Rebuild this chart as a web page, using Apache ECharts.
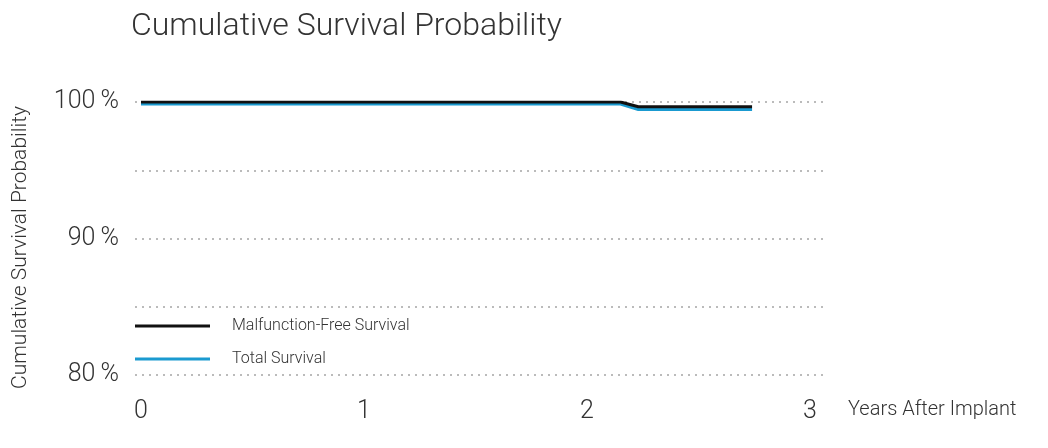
<!DOCTYPE html>
<html>
<head>
<meta charset="utf-8">
<script src="https://cdn.jsdelivr.net/npm/echarts@6/dist/echarts.min.js"></script>
<style>html,body{margin:0;padding:0;background:#fff;}#c{width:1048px;height:448px;}</style>
</head>
<body>
<div id="c"></div>
<script>
var years = [0, 2.15, 2.23, 2.74];
var malfunctionFree = [100, 100, 99.65, 99.65];
var totalSurvival = [99.85, 99.85, 99.45, 99.45];
var xTicks = [0, 1, 2, 3];
var yLabelValues = [80, 90, 100];
var seriesNames = ['Malfunction-Free Survival', 'Total Survival'];

function pairs(xs, ys) { return xs.map(function (x, i) { return [x, ys[i]]; }); }

var chart = echarts.init(document.getElementById('c'));
var font = 'Roboto';
chart.setOption({
  animation: false,
  backgroundColor: '#fff',
  title: {
    text: 'Cumulative Survival Probability',
    left: 126, top: 6,
    textStyle: { fontFamily: font, fontWeight: 300, fontSize: 32, color: '#333' }
  },
  legend: {
    orient: 'vertical',
    left: 130, top: 313,
    icon: 'rect', itemWidth: 75, itemHeight: 3, itemGap: 17,
    textStyle: { fontFamily: font, fontSize: 16, fontWeight: 300, color: '#333', padding: [0, 0, 0, 17] },
    data: seriesNames
  },
  grid: { left: 135, right: 223, top: 102, bottom: 73 },
  xAxis: {
    type: 'value',
    min: -0.027, max: 3.067,
    axisLine: { show: false }, axisTick: { show: false },
    splitLine: { show: false },
    axisLabel: { customValues: xTicks, margin: 24, fontFamily: font, fontWeight: 300, fontSize: 25, color: '#333' },
    name: 'Years After Implant',
    nameLocation: 'end', nameGap: 23,
    nameTextStyle: { fontFamily: font, fontWeight: 300, fontSize: 20, color: '#333', verticalAlign: 'top', padding: [25, 0, 0, 0] }
  },
  yAxis: {
    type: 'value', min: 80, max: 100, interval: 5,
    axisLine: { show: false }, axisTick: { show: false },
    splitLine: { show: true, lineStyle: { color: '#bbb', type: [2, 5], width: 2 } },
    axisLabel: {
      margin: 16, fontFamily: font, fontWeight: 300, fontSize: 25, color: '#333',
      formatter: function (v) { return yLabelValues.indexOf(v) >= 0 ? v + '\u2009%' : ''; }
    },
    name: 'Cumulative Survival Probability',
    nameLocation: 'middle', nameGap: 104, nameRotate: 90,
    nameTextStyle: { fontFamily: font, fontWeight: 300, fontSize: 21, color: '#333', padding: [0, 18, 0, 0] }
  },
  series: [
    { name: seriesNames[1], type: 'line', data: pairs(years, totalSurvival), showSymbol: false, lineStyle: { width: 3, color: '#1a9ad0' }, itemStyle: { color: '#1a9ad0' }, z: 2 },
    { name: seriesNames[0], type: 'line', data: pairs(years, malfunctionFree), showSymbol: false, lineStyle: { width: 3, color: '#111' }, itemStyle: { color: '#111' }, z: 3 }
  ]
});
</script>
</body>
</html>
